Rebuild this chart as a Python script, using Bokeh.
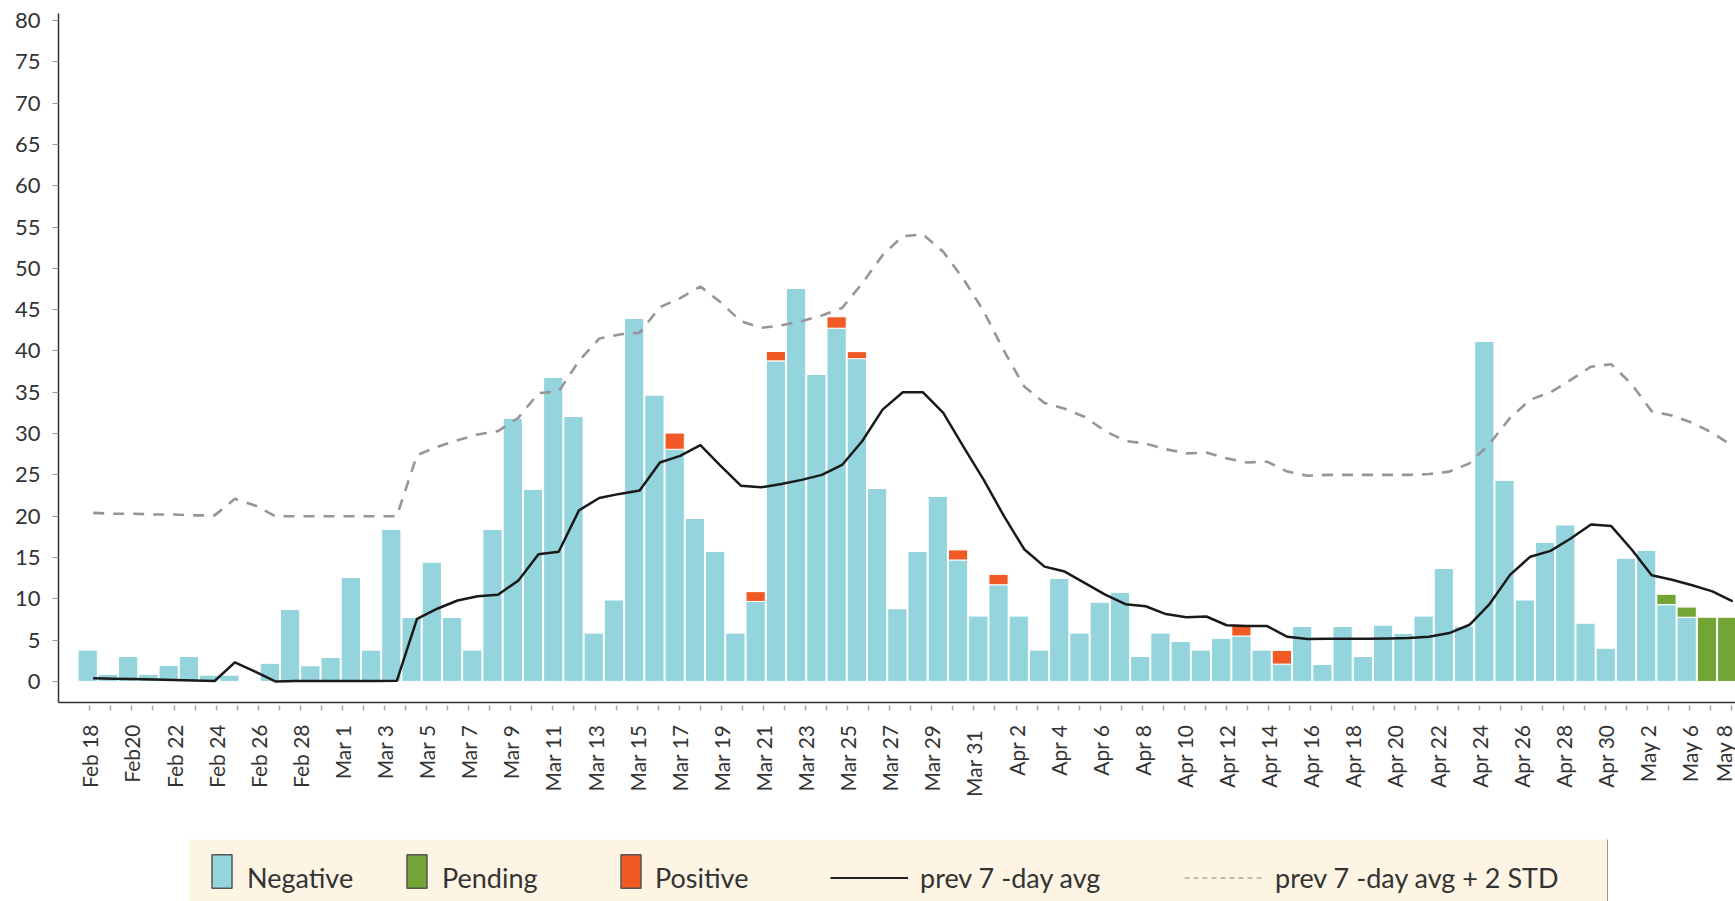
import math
from bokeh.plotting import figure
from bokeh.models import (Range1d, LinearAxis, FixedTicker, Legend, LegendItem,
                          ColumnDataSource, Spacer)
from bokeh.layouts import column, row
from bokeh.embed import file_html
from bokeh.resources import INLINE

# ---------------- data ----------------
tick_labels = (
    ["Feb 18", "Feb 19", "Feb20", "Feb 21", "Feb 22", "Feb 23", "Feb 24", "Feb 25",
     "Feb 26", "Feb 27", "Feb 28", "Feb 29"]
    + ["Mar %d" % d for d in range(1, 31)] + ["Mar  31"]
    + ["Apr %d" % d for d in range(1, 31)]
    + ["May 1", "May 2", "May 4", "May 6", "May 7", "May 8"]
)

negative = [3.84, 0.91, 3.02, 0.91, 1.97, 3.02, 0.81, 0.81, 0, 2.25,
            8.77, 1.92, 2.92, 12.6, 3.84, 18.46, 7.77, 14.48, 7.77, 3.84,
            18.46, 31.9, 23.3, 36.8, 32.1, 5.9, 9.9, 43.96, 34.7, 28.1,
            19.75, 15.8, 5.9, 9.68, 38.8, 47.6, 37.15, 42.76, 39.07, 23.35,
            8.82, 15.77, 22.4, 14.7, 7.96, 11.7, 7.96, 3.84, 12.46, 5.9,
            9.64, 10.83, 3.07, 5.9, 4.84, 3.84, 5.27, 5.5, 3.84, 2.1,
            6.7, 2.1, 6.7, 3.02, 6.86, 5.85, 7.96, 13.7, 6.7, 41.2,
            24.4, 9.9, 16.87, 18.98, 7.1, 4.07, 14.96, 15.9, 9.3, 7.77,
            0, 0]

positive = [0, 0, 0, 0, 0, 0, 0, 0, 0, 0,
            0, 0, 0, 0, 0, 0, 0, 0, 0, 0,
            0, 0, 0, 0, 0, 0, 0, 0, 0, 2.0,
            0, 0, 0, 1.2, 1.15, 0, 0, 1.4, 0.86, 0,
            0, 0, 0, 1.25, 0, 1.29, 0, 0, 0, 0,
            0, 0, 0, 0, 0, 0, 0, 1.34, 0, 1.68,
            0, 0, 0, 0, 0, 0, 0, 0, 0, 0,
            0, 0, 0, 0, 0, 0, 0, 0, 0, 0,
            0, 0]

pending = [0] * 78 + [1.25, 1.23, 7.77, 7.77]

avg7 = [0.38, 0.33, 0.28, 0.22, 0.17, 0.11, 0.05, 2.3, 1.2, 0.0,
        0.05, 0.05, 0.05, 0.05, 0.05, 0.08, 7.57, 8.8, 9.8, 10.3,
        10.5, 12.2, 15.4, 15.7, 20.7, 22.2, 22.7, 23.1, 26.5, 27.3,
        28.6, 26.1, 23.7, 23.5, 23.9, 24.4, 25.0, 26.2, 29.1, 32.9,
        35.0, 35.0, 32.5, 28.4, 24.4, 20.0, 16.0, 13.9, 13.3, 11.9,
        10.5, 9.35, 9.1, 8.15, 7.77, 7.86, 6.8, 6.7, 6.7, 5.4,
        5.13, 5.18, 5.18, 5.18, 5.2, 5.27, 5.4, 5.85, 6.86, 9.4,
        12.9, 15.1, 15.8, 17.3, 19.0, 18.8, 16.0, 12.85, 12.3, 11.65,
        10.9, 9.7]

avg7_2std = [20.4, 20.3, 20.3, 20.2, 20.2, 20.1, 20.1, 22.1, 21.3, 20.0,
             20.0, 20.0, 20.0, 20.0, 20.0, 20.0, 27.4, 28.4, 29.2, 29.9,
             30.3, 31.9, 34.9, 35.1, 38.8, 41.5, 42.0, 42.2, 45.3, 46.4,
             47.8, 45.9, 43.6, 42.8, 43.1, 43.6, 44.3, 45.2, 48.2, 51.6,
             53.9, 54.1, 52.0, 48.7, 44.8, 40.0, 35.7, 33.7, 33.0, 32.0,
             30.3, 29.1, 28.8, 28.1, 27.6, 27.7, 27.0, 26.5, 26.6, 25.4,
             24.9, 25.0, 25.0, 25.0, 25.0, 25.0, 25.1, 25.4, 26.4, 28.8,
             31.9, 34.1, 35.0, 36.5, 38.1, 38.4, 36.0, 32.7, 32.2, 31.3,
             30.1, 28.5]

y_ticks = list(range(0, 81, 5))

# ---------------- styles ----------------
CYAN = "#93d4dd"
ORANGE = "#f15a24"
GREEN = "#72a535"
BEIGE = "#fdf4e3"
TEXT = "#333333"
FONT = "Lato"

n = len(negative)
bar_x = list(range(n))
line_x = [i + 0.27 for i in range(n)]

p = figure(width=1735, height=839,
           x_range=Range1d(-1.443, 81.41), y_range=Range1d(-2.55, 80.85),
           output_backend="svg", toolbar_location=None, x_axis_location=None,
           min_border_left=58, min_border_right=0, min_border_top=13,
           min_border_bottom=137)
p.title.visible = False
p.extra_x_ranges = {"labels": Range1d(-1.487, 78.18)}
p.grid.visible = False
p.outline_line_color = None
p.background_fill_color = "white"

src = ColumnDataSource(dict(x=bar_x, negative=negative, positive=positive, pending=pending))
p.vbar_stack(["negative", "positive", "pending"], x="x", width=0.95, source=src,
             fill_color=[CYAN, ORANGE, GREEN], line_color="white", line_width=1)

p.line(line_x, avg7, line_color="#1a1a1a", line_width=2.5, line_join="round")
p.line(line_x, avg7_2std, line_color="#96969a", line_width=2.6, line_dash="11 9")

# y axis
ya = p.yaxis[0]
ya.ticker = FixedTicker(ticks=y_ticks)
ya.axis_line_color = "#333333"
ya.axis_line_width = 1.5
ya.major_tick_line_color = "#999999"
ya.major_tick_out = 6
ya.major_tick_in = 0
ya.minor_tick_line_color = None
ya.major_label_standoff = 12
ya.major_label_text_font = FONT
ya.major_label_text_font_size = "22px"
ya.major_label_text_color = TEXT

# x axis (date labels)
xa = LinearAxis(x_range_name="labels",
                ticker=FixedTicker(ticks=list(range(len(tick_labels)))),
                major_label_overrides={i: (lab if i % 2 == 0 else "")
                                       for i, lab in enumerate(tick_labels)},
                major_label_orientation=math.pi / 2)
xa.axis_line_color = "#333333"
xa.axis_line_width = 1.5
xa.major_tick_line_color = "#aaaaaa"
xa.major_tick_line_width = 1.5
xa.major_tick_in = -3
xa.major_tick_out = 8
xa.minor_tick_line_color = None
xa.major_label_standoff = 14
xa.major_label_text_font = FONT
xa.major_label_text_font_size = "21px"
xa.major_label_text_color = TEXT
p.add_layout(xa, "below")

# ---------------- legend strip ----------------
p2 = figure(width=1419, height=62, x_range=Range1d(0, 1), y_range=Range1d(0, 1),
            output_backend="svg", toolbar_location=None,
            x_axis_location=None, y_axis_location=None, min_border=0,
            background_fill_color=BEIGE, border_fill_color=BEIGE,
            outline_line_color=None)
p2.title.visible = False
p2.grid.visible = False

# renderers kept outside the visible range; they only feed the legend
r_neg = p2.vbar(x=[10], top=[1], width=1, fill_color=CYAN, line_color="#555555", line_width=1.5)
r_pen = p2.vbar(x=[10], top=[1], width=1, fill_color=GREEN, line_color="#555555", line_width=1.5)
r_pos = p2.vbar(x=[10], top=[1], width=1, fill_color=ORANGE, line_color="#555555", line_width=1.5)
r_blank = p2.vbar(x=[10], top=[1], width=1, fill_alpha=0, line_alpha=0)
r_avg = p2.line(x=[10, 11], y=[0, 0], line_color="#222222", line_width=2)
r_std = p2.line(x=[10, 11], y=[0, 0], line_color="#aaaaaa", line_width=1.5, line_dash="5 4")


def add_legend(label, rend, x, y, gw, gh, standoff):
    lg = Legend(items=[LegendItem(label=label, renderers=[rend])],
                location=(x, y), orientation="horizontal",
                glyph_width=gw, glyph_height=gh, label_height=55,
                label_standoff=standoff, padding=0, margin=0, spacing=0,
                border_line_color=None, background_fill_alpha=0,
                label_text_font=FONT, label_text_font_size="27px",
                label_text_color=TEXT)
    p2.add_layout(lg)


# swatches sit slightly above the text centre, as in the original
for lab, rend, x0, so in [("Negative", r_neg, 20, 13),
                          ("Pending", r_pen, 215, 13),
                          ("Positive", r_pos, 429, 12)]:
    add_legend(" ", rend, x0, 3, 25, 42, so)
    add_legend(lab, r_blank, x0, -4, 25, 42, so)

add_legend("prev 7 -day avg", r_avg, 641, -4, 78, 55, 12)
add_legend("prev 7 -day avg + 2 STD", r_std, 995, -4, 79, 55, 12)

layout = column(p, row(Spacer(width=189, height=62), p2))

with open("out.html", "w") as f:
    f.write(file_html(layout, INLINE))
